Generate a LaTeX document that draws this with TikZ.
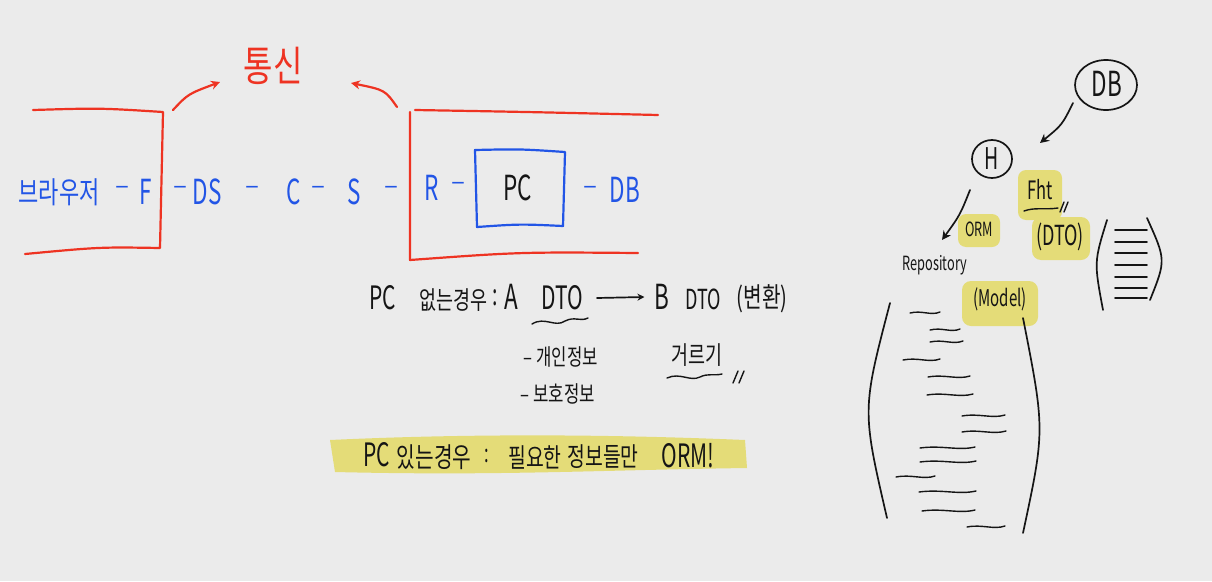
\documentclass[tikz,border=0pt]{standalone}
\usepackage{fontspec}
\setmainfont{Noto Sans CJK KR}
\usetikzlibrary{arrows.meta}
\definecolor{bg}{HTML}{EBEBEB}
\definecolor{pred}{HTML}{EE3322}
\definecolor{pblue}{HTML}{2255E6}
\definecolor{hl}{HTML}{E4DC78}
\definecolor{ink}{HTML}{151515}
\newcommand{\fs}[1]{\fontsize{#1}{#1}\selectfont}
\newcommand{\narrow}[1]{\scalebox{0.75}[1.15]{#1}}
\newcommand{\knarrow}[1]{\scalebox{0.88}[1.2]{#1}}
\begin{document}
\begin{tikzpicture}[x=1pt,y=-1pt,
  redline/.style={draw=pred,line width=2.2pt,line cap=round,line join=round},
  blueline/.style={draw=pblue,line width=2.2pt,line join=round},
  inkline/.style={draw=ink,line width=1.7pt,line cap=round,line join=round},
  bt/.style={text=pblue,inner sep=0pt},
  kt/.style={text=ink,inner sep=0pt},
  arr/.style={-{Stealth[length=9pt,width=9pt]}},
  squig/.style={inkline,line width=1.4pt}]
\fill[bg] (0,0) rectangle (1212,581);
\useasboundingbox (0,0) rectangle (1212,581);

% ---------- red boxes ----------
\draw[redline] (33,110) .. controls (100,108) .. (163,112) -- (160,248) .. controls (100,247) .. (25,254);
\draw[redline] (415,110) .. controls (530,112) .. (658,115);
\draw[redline] (410,112) -- (410,260) .. controls (520,252) .. (638,253);

% ---------- 통신 ----------
\node[text=pred,inner sep=0pt,font=\fs{32}] (tongsin) at (273,66) {\scalebox{1}[1.3]{통신}};
\coordinate (la) at (173,110);
\coordinate (ra) at (397,107);
\coordinate (lt) at (220,82);
\coordinate (rt) at (351,83);
\draw[redline,arr] (la) .. controls (188,94) .. (lt);
\draw[redline,arr] (ra) .. controls (385,90) .. (rt);

% ---------- blue chain ----------
\node[bt,font=\fs{25}] (browser) at (59,192) {\knarrow{브라우저}};
\node[bt,font=\fs{26}] (d1) at (122,190) {–};
\node[bt,font=\fs{30}] (F) at (146,192) {\narrow{F}};
\node[bt,font=\fs{26}] (d2) at (180,190) {–};
\node[bt,font=\fs{30}] (DS) at (207,192) {\narrow{DS}};
\node[bt,font=\fs{26}] (d3) at (252,190) {–};
\node[bt,font=\fs{30}] (C) at (294,192) {\narrow{C}};
\node[bt,font=\fs{26}] (d4) at (318,190) {–};
\node[bt,font=\fs{30}] (S) at (354,192) {\narrow{S}};
\node[bt,font=\fs{26}] (d5) at (391,190) {–};
\node[bt,font=\fs{30}] (R) at (432,188) {\narrow{R}};
\node[bt,font=\fs{26}] (d6) at (458,186) {–};
\draw[blueline] (475,150) .. controls (520,149) .. (565,152) -- (563,226) .. controls (520,224) .. (477,227) -- cycle;
\node[kt,font=\fs{30}] (PC) at (518,188) {\narrow{PC}};
\node[bt,font=\fs{26}] (d7) at (590,190) {–};
\node[bt,font=\fs{30}] (DB1) at (625,190) {\narrow{DB}};

% ---------- PC 없는 경우 ----------
\node[kt,font=\fs{28}] (pc2) at (383,298) {\narrow{PC}};
\node[kt,font=\fs{21}] (eopneun) at (453,300) {\knarrow{없는경우}};
\node[kt,font=\fs{26}] (colon1) at (495,298) {\narrow{:}};
\node[kt,font=\fs{30}] (A) at (511,297) {\narrow{A}};
\node[kt,font=\fs{28}] (dtoA) at (562,298) {\narrow{DTO}};
\node[kt,font=\fs{30}] (B) at (662,297) {\narrow{B}};
\node[kt,font=\fs{24}] (dtoB) at (703,299) {\narrow{DTO}};
\node[kt,font=\fs{23}] (byeon) at (762,299) {\knarrow{(변환)}};
\draw[inkline,-{Stealth[length=7pt,width=7pt]}] ([xshift=14pt]dtoA.east) -- ([xshift=-10pt]B.west);
\draw[squig] (532,324) .. controls (545,316) and (555,328) .. (565,321) .. controls (575,316) and (580,322) .. (588,318);

\node[kt,font=\fs{19}] (gaein) at (561,357) {\knarrow{– 개인정보}};
\node[kt,font=\fs{19}] (boho) at (558,394) {\knarrow{– 보호정보}};
\node[kt,font=\fs{21}] (georeugi) at (697,355) {\knarrow{거르기}};
\draw[squig] (667,378) .. controls (680,372) and (690,382) .. (700,377) .. controls (708,373) and (714,376) .. (722,374);
\draw[squig] (733,383) -- (738,371);
\draw[squig] (739,383) -- (744,371);

% ---------- PC 있는 경우 ----------
\fill[hl] (330,440) .. controls (500,432) and (650,436) .. (745,440) -- (747,468) .. controls (600,470) and (500,476) .. (335,472) -- cycle;
\node[kt,font=\fs{28}] (pc3) at (377,455) {\narrow{PC}};
\node[kt,font=\fs{23}] (itneun) at (434,457) {\knarrow{있는경우}};
\node[kt,font=\fs{22}] (colon2) at (487,456) {\narrow{:}};
\node[kt,font=\fs{22}] (pilyo) at (535,457) {\knarrow{필요한}};
\node[kt,font=\fs{22}] (jeongbo) at (603,457) {\knarrow{정보들만}};
\node[kt,font=\fs{28}] (orm1) at (688,456) {\narrow{ORM!}};

% ---------- right side ----------
\draw[inkline] (1106,85) ellipse [x radius=31, y radius=25];
\node[kt,font=\fs{30}] (DB2) at (1107,84) {\narrow{DB}};
\draw[inkline] (992,159) ellipse [x radius=20, y radius=19];
\node[kt,font=\fs{26}] (H) at (992,159) {\narrow{H}};
\coordinate (dbs) at (1073,103);
\coordinate (dbt) at (1040,143);
\draw[inkline,arr] (dbs) .. controls (1062,125) .. (dbt);
\coordinate (hs) at (970,190);
\coordinate (ht) at (942,240);
\draw[inkline,arr] (hs) .. controls (960,215) .. (ht);

\fill[hl,rounded corners=8pt] (958,214) rectangle (1000,247);
\node[kt,font=\fs{17}] (orm2) at (979,229) {\narrow{ORM}};
\fill[hl,rounded corners=8pt] (1018,170) rectangle (1062,220);
\node[kt,font=\fs{22}] (fht) at (1040,190) {\narrow{Fht}};
\draw[squig] (1024,211) .. controls (1035,207) and (1045,210) .. (1058,208);
\draw[squig] (1060,212) -- (1064,202);
\draw[squig] (1064,212) -- (1068,202);
\fill[hl,rounded corners=9pt] (1032,217) rectangle (1090,260);
\node[kt,font=\fs{24}] (dto3) at (1060,237) {\narrow{(DTO)}};
\node[kt,font=\fs{17}] (repo) at (935,265) {\narrow{Repository}};
\fill[hl,rounded corners=9pt] (962,281) rectangle (1038,326);
\node[kt,font=\fs{20}] (model) at (1000,299) {\narrow{(Model)}};

% small bracket list
\draw[inkline] (1107,220) .. controls (1094,262) .. (1103,310);
\draw[inkline] (1147,218) .. controls (1166,260) .. (1150,300);
\foreach \yy in {230,242,253,265,277,288,298}
  \draw[inkline] (1115,\yy) -- (1147,\yy);

% big bracket list
\draw[inkline] (890,303) .. controls (862,410) .. (887,518);
\draw[inkline] (1023,318) .. controls (1045,430) .. (1023,533);
\foreach \xa/\xb/\yy in {910/940/313, 930/960/330, 930/963/342, 903/940/360, 928/970/377, 927/973/395, 962/1005/416, 962/1006/432, 920/975/448, 920/976/462, 896/935/477, 919/976/492, 922/975/511, 967/1005/527}
  \draw[squig] (\xa,\yy) .. controls ({\xa+(\xb-\xa)*0.4},\yy-3) and ({\xa+(\xb-\xa)*0.7},\yy+3) .. (\xb,\yy-1);
\end{tikzpicture}
\end{document}
